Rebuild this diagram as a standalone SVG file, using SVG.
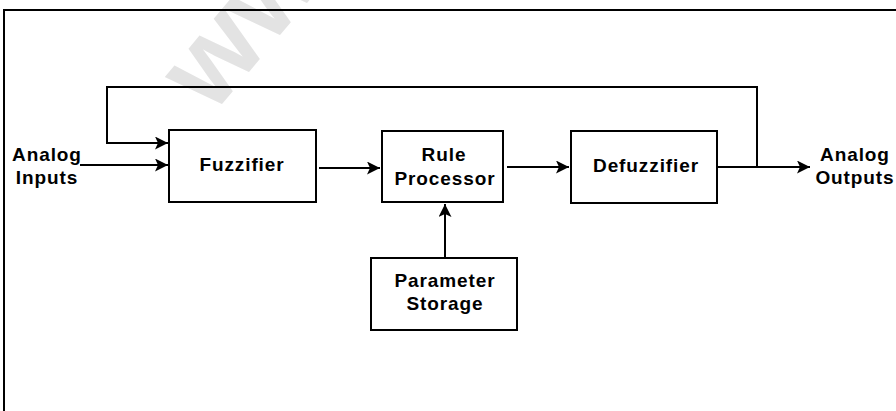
<svg xmlns="http://www.w3.org/2000/svg" width="896" height="411" viewBox="0 0 896 411">
<style>
.box{fill:#fff;stroke:#000;stroke-width:2}
.lbl{font-family:"Liberation Sans",Arial,sans-serif;font-weight:bold;font-size:19px;letter-spacing:0.9px;fill:#000;text-anchor:middle}
.wire{fill:none;stroke:#000;stroke-width:2}
.frame{fill:none;stroke:#000;stroke-width:2}
.wm{font-family:"Liberation Sans",Arial,sans-serif;font-weight:bold;font-size:116px;fill:#e3e3e3}
</style>
<defs>
<marker id="arr" markerUnits="userSpaceOnUse" markerWidth="14" markerHeight="13" refX="13" refY="6.5" orient="auto" viewBox="0 0 14 13">
<path d="M0,0 L13,6.5 L0,13 L3,6.5 z" fill="#000"/>
</marker>
</defs>
<rect x="0" y="0" width="896" height="411" fill="#fff"/>
<text class="wm" transform="translate(212,116) rotate(-50)">www</text>
<g id="frame">
<polyline class="frame" points="4,411 4,10 896,10"/>
</g>
<g id="connectors">
<polyline class="wire" points="757,167 757,87 107,87 107,143 168,143" marker-end="url(#arr)"/>
<line class="wire" x1="80" y1="165" x2="168" y2="165" marker-end="url(#arr)"/>
<line class="wire" x1="319" y1="168" x2="380" y2="168" marker-end="url(#arr)"/>
<line class="wire" x1="507" y1="167" x2="569" y2="167" marker-end="url(#arr)"/>
<line class="wire" x1="717" y1="167" x2="810" y2="167" marker-end="url(#arr)"/>
<line class="wire" x1="445" y1="258" x2="445" y2="204" marker-end="url(#arr)"/>
</g>
<g id="analog-inputs">
<text class="lbl" x="47" y="161">Analog</text>
<text class="lbl" x="47" y="184">Inputs</text>
</g>
<g id="fuzzifier">
<rect class="box" x="169" y="130" width="147" height="72"/>
<text class="lbl" x="242" y="171">Fuzzifier</text>
</g>
<g id="rule-processor">
<rect class="box" x="382" y="131" width="121" height="71"/>
<text class="lbl" x="444" y="161">Rule</text>
<text class="lbl" x="445" y="185">Processor</text>
</g>
<g id="defuzzifier">
<rect class="box" x="571" y="131" width="146" height="72"/>
<text class="lbl" x="646" y="172">Defuzzifier</text>
</g>
<g id="parameter-storage">
<rect class="box" x="371" y="258" width="146" height="72"/>
<text class="lbl" x="445" y="287">Parameter</text>
<text class="lbl" x="445" y="310">Storage</text>
</g>
<g id="analog-outputs">
<text class="lbl" x="855" y="161">Analog</text>
<text class="lbl" x="855" y="184">Outputs</text>
</g>
</svg>
